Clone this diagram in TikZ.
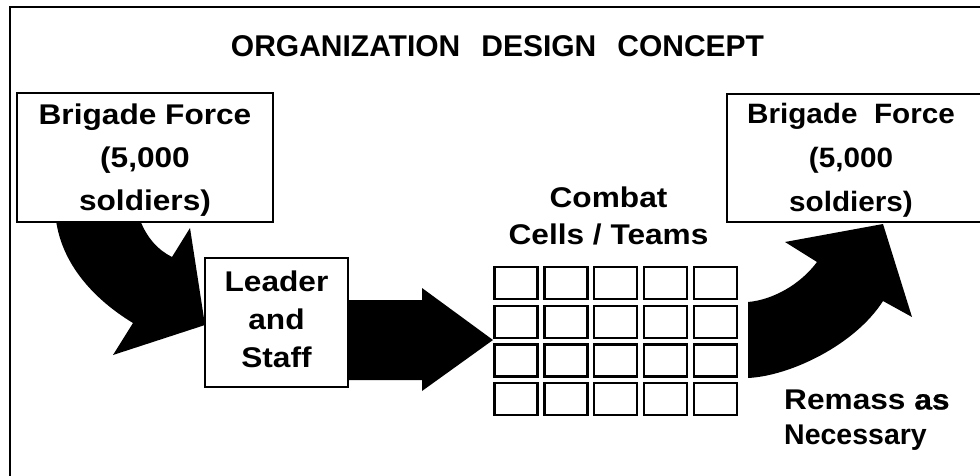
\documentclass[tikz,border=0pt]{standalone}
\usepackage{fontspec}
\usepackage{graphicx}
\setmainfont{Liberation Sans}
\newfontfamily\medfont[FakeBold=0.8]{Liberation Sans}
\newcommand{\hx}[1]{\scalebox{1.11}[1]{#1}}
\newcommand{\hy}[1]{\scalebox{1.06}[1]{#1}}
\usetikzlibrary{calc}
\begin{document}
\begin{tikzpicture}[x=1pt,y=-1pt,
  frame/.style={line width=2.4pt},
  boxst/.style={draw,line width=2.6pt,fill=white,inner sep=0pt},
  cell/.style={draw,line width=2.4pt,fill=white,minimum width=43pt,minimum height=32pt,inner sep=0pt},
  boldtext/.style={font=\bfseries\fontsize{28.5}{#1}\selectfont,align=center,inner sep=0pt},
  fatarrow/.style={fill=black}
]
\useasboundingbox (0,0) rectangle (980,476);
% frame (cropped scan: only top and left sides visible)
\draw[frame] (10,476) -- (10,7) -- (980,7);
% title
\node[font=\bfseries\fontsize{30}{34}\selectfont, inner sep=0pt, anchor=base] (title) at (497.5,57) {ORGANIZATION\hspace{21pt}DESIGN\hspace{21pt}CONCEPT};
% arrows (drawn first, boxes cover their ends)
\fill[fatarrow] (56,220) .. controls (62,265) and (95,300) .. (133,323) -- (113,355) -- (205,325) -- (190,228) -- (172,257) .. controls (158,250) and (147,238) .. (140,220) -- cycle;
\fill[fatarrow] (346,300) -- (422,300) -- (422,288) -- (493,340) -- (422,391) -- (422,380) -- (346,380) -- cycle;
\fill[fatarrow] (748,302) .. controls (772,300) and (800,285) .. (817,262) -- (785,242) -- (883,224) -- (912,317) -- (883,301) .. controls (855,345) and (790,376) .. (748,378) -- cycle;
% boxes
\node[boxst, minimum width=256pt, minimum height=129pt] (lbox) at (145,157.5) {};
\node[boldtext=43] (ltext) at (145,160.6) {\hx{Brigade Force}\\\hx{(5,000}\\\hx{soldiers)}};
\node[boxst, minimum width=143pt, minimum height=129pt] (leader) at (276.5,322.5) {};
\node[boldtext=38] (leadertext) at (276.5,319.6) {\hx{Leader}\\\hx{and}\\\hx{Staff}};
\node[boxst, minimum width=273pt, minimum height=128pt] (rbox) at (863.5,158) {};
\node[font=\bfseries\fontsize{28}{44}\selectfont, align=center, inner sep=0pt] (rtext) at (851,159.8) {\hy{Brigade\ \ Force}\\\hy{(5,000}\\\hy{soldiers)}};
% combat cells
\node[boldtext=37] (combat) at (608.5,216.1) {\hx{Combat}\\\hx{Cells / Teams}};
\foreach \r in {0,...,3}
  \foreach \c in {0,...,4}
    \node[cell] (cell-\r-\c) at ({516+49.8*\c},{283+38.7*\r}) {};
% remass label
\node[font=\bfseries\fontsize{28.5}{35}\selectfont, align=left, inner sep=0pt, anchor=west] (remass) at (784,420.1) {\hx{Remass {\medfont as}}\\Necessary};
\end{tikzpicture}
\end{document}
